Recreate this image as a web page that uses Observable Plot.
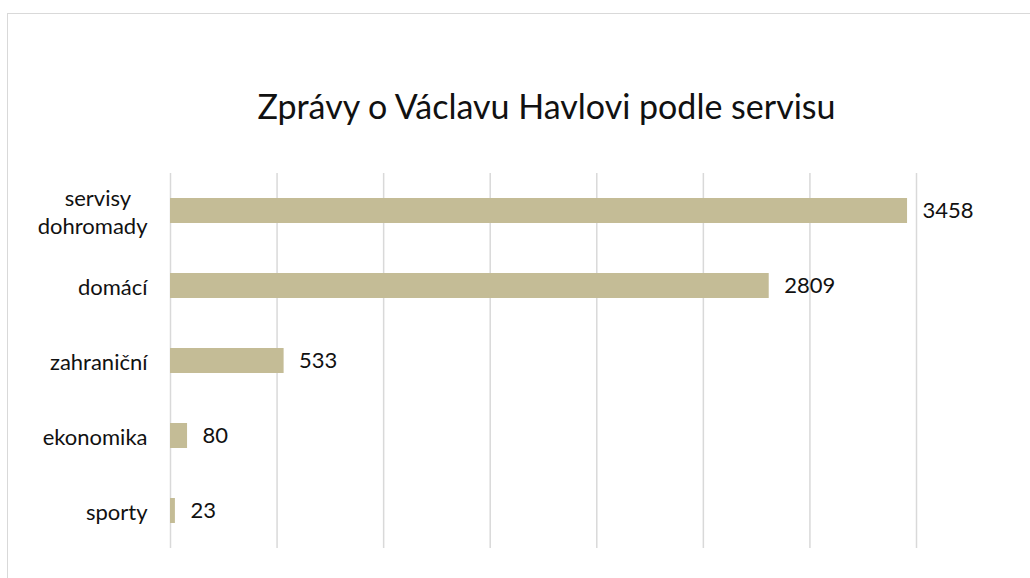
<!DOCTYPE html>
<html>
<head>
<meta charset="utf-8">
<script src="https://cdn.jsdelivr.net/npm/d3@7"></script>
<script src="https://cdn.jsdelivr.net/npm/@observablehq/plot@0.6"></script>
<style>
  html, body { margin: 0; padding: 0; background: #fff; }
  #wrap { position: relative; width: 1030px; height: 578px; overflow: hidden; background: #fff; }
  #frame { position: absolute; left: 7px; top: 13px; width: 1200px; height: 800px; border: 1.5px solid #d9d9d9; box-sizing: border-box; }
  #title { position: absolute; left: 7px; width: 1079px; top: 89px; text-align: center;
           font-family: Lato, "Open Sans", sans-serif; font-size: 34px; line-height: 1; color: #111; white-space: nowrap; }
  #chart { position: absolute; left: 0; top: 0; }
</style>
</head>
<body>
<div id="wrap">
  <div id="frame"></div>
  <div id="title">Zprávy o Václavu Havlovi podle servisu</div>
  <div id="chart"></div>
</div>
<script>
const categories = ["servisy dohromady", "domácí", "zahraniční", "ekonomika", "sporty"];
const values = [3458, 2809, 533, 80, 23];
const gridTicks = [0, 500, 1000, 1500, 2000, 2500, 3000, 3500];

const data = categories.map((c, i) => ({category: c, value: values[i]}));

const labelFormat = d => d === "servisy dohromady" ? "servisy\u00a0\u00a0\u00a0\n dohromady" : d;

const chart = Plot.plot({
  width: 1030,
  height: 578,
  marginTop: 173,
  marginBottom: 30,
  marginLeft: 170,
  marginRight: 114,
  style: {fontFamily: "Lato, 'Open Sans', sans-serif", fontSize: "22px", color: "#111", background: "transparent"},
  x: {domain: [0, 3500], axis: null},
  y: {domain: categories, padding: 0, axis: null},
  marks: [
    Plot.ruleX(gridTicks, {stroke: "#d9d9d9", strokeWidth: 1.5}),
    Plot.barX(data, {x: "value", y: "category", fill: "#c4bc96", insetTop: 25, insetBottom: 25}),
    Plot.text(data, {x: "value", y: "category", text: d => String(d.value), textAnchor: "start", dx: 15, fill: "#111", fontSize: 22}),
    Plot.axisY({tickSize: 0, tickPadding: 23, tickFormat: labelFormat, fontSize: 22, lineHeight: 1.25, fill: "#111", label: null})
  ]
});
document.getElementById("chart").appendChild(chart);
</script>
</body>
</html>
